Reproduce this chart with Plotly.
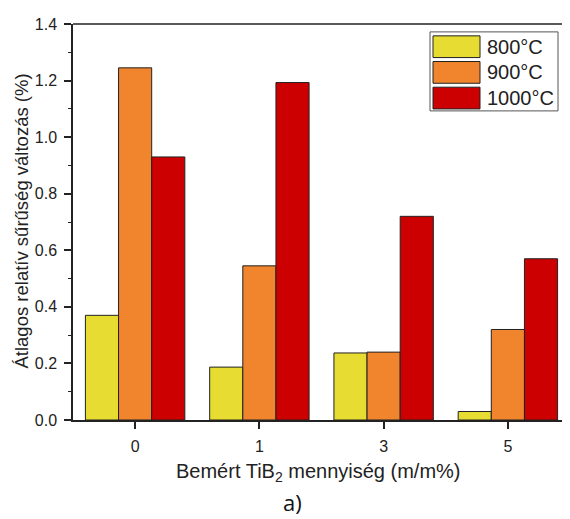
import plotly.graph_objects as go

categories = ["0", "1", "3", "5"]
series_names = ["800°C", "900°C", "1000°C"]
values_800 = [0.37, 0.187, 0.237, 0.03]
values_900 = [1.245, 0.545, 0.24, 0.32]
values_1000 = [0.93, 1.193, 0.72, 0.57]
colors = ["#E6DC32", "#F0852D", "#CC0000"]

series_values = [values_800, values_900, values_1000]

fig = go.Figure()
for name, vals, col in zip(series_names, series_values, colors):
    fig.add_trace(go.Bar(
        x=categories, y=vals, name=name,
        marker=dict(color=col, line=dict(color="#222222", width=1)),
        showlegend=False,
    ))

font_family = "Liberation Sans, Arial, sans-serif"

# page body has an 8px margin, so the figure is offset by 8px
fig.update_layout(
    width=570, height=519,
    margin=dict(l=65, r=8, t=11, b=107),
    plot_bgcolor="white", paper_bgcolor="white",
    barmode="group", bargap=0.2, bargroupgap=0,
    font=dict(family=font_family, size=16, color="#222222"),
    xaxis=dict(
        type="category", range=[-0.5, 3.5],
        showline=True, linecolor="#222222", linewidth=1.5,
        ticks="outside", ticklen=7, tickwidth=1.5, tickcolor="#222222",
        showgrid=False, tickfont=dict(size=16), ticklabelstandoff=4,
    ),
    yaxis=dict(
        range=[0, 1.4], dtick=0.2, tickformat=".1f",
        showline=True, linecolor="#222222", linewidth=1.5,
        ticks="outside", ticklen=7, tickwidth=1.5, tickcolor="#222222",
        minor=dict(dtick=0.1, ticks="outside", ticklen=3, tickcolor="#222222", tickwidth=1),
        showgrid=False, zeroline=False, tickfont=dict(size=16), ticklabelstandoff=4,
    ),
)

pl, pr, pt, pb = 73, 570, 19, 420
def px(x):
    return (x - pl) / (pr - pl)
def py(y):
    return (pb - y) / (pb - pt)

shapes = [
    dict(type="line", xref="paper", yref="paper", x0=0, x1=1, y0=1, y1=1,
         line=dict(color="#222222", width=1.5)),
]
annotations = [
    dict(text="Átlagos relatív sűrűség változás (%)", xref="paper", yref="paper",
         x=px(22), y=py(219), xanchor="center", yanchor="middle", textangle=-90,
         showarrow=False, font=dict(size=18.5, family=font_family)),
    dict(text="Bemért TiB<sub>2</sub> mennyiség (m/m%)", xref="paper", yref="paper",
         x=px(318), y=py(473), xanchor="center", yanchor="middle", showarrow=False,
         font=dict(size=20, family=font_family)),
    dict(text="a)", xref="paper", yref="paper", x=px(292), y=py(503),
         xanchor="center", yanchor="middle", showarrow=False,
         font=dict(size=22, family="Open Sans, sans-serif", color="#111111")),
]

shapes.append(dict(type="rect", xref="paper", yref="paper",
                   x0=px(430), x1=px(558), y0=py(27), y1=py(107),
                   line=dict(color="#555555", width=1), fillcolor="white"))
for i, (name, col) in enumerate(zip(series_names, colors)):
    top = 31 + i * 26
    shapes.append(dict(type="rect", xref="paper", yref="paper",
                       x0=px(433), x1=px(480), y0=py(top), y1=py(top + 22),
                       line=dict(color="#222222", width=1), fillcolor=col))
    annotations.append(dict(text=name, xref="paper", yref="paper",
                            x=px(485), y=py(top + 11), xanchor="left", yanchor="middle",
                            showarrow=False, font=dict(size=20, family=font_family)))

fig.update_layout(shapes=shapes, annotations=annotations)
fig.write_html("out.html")
